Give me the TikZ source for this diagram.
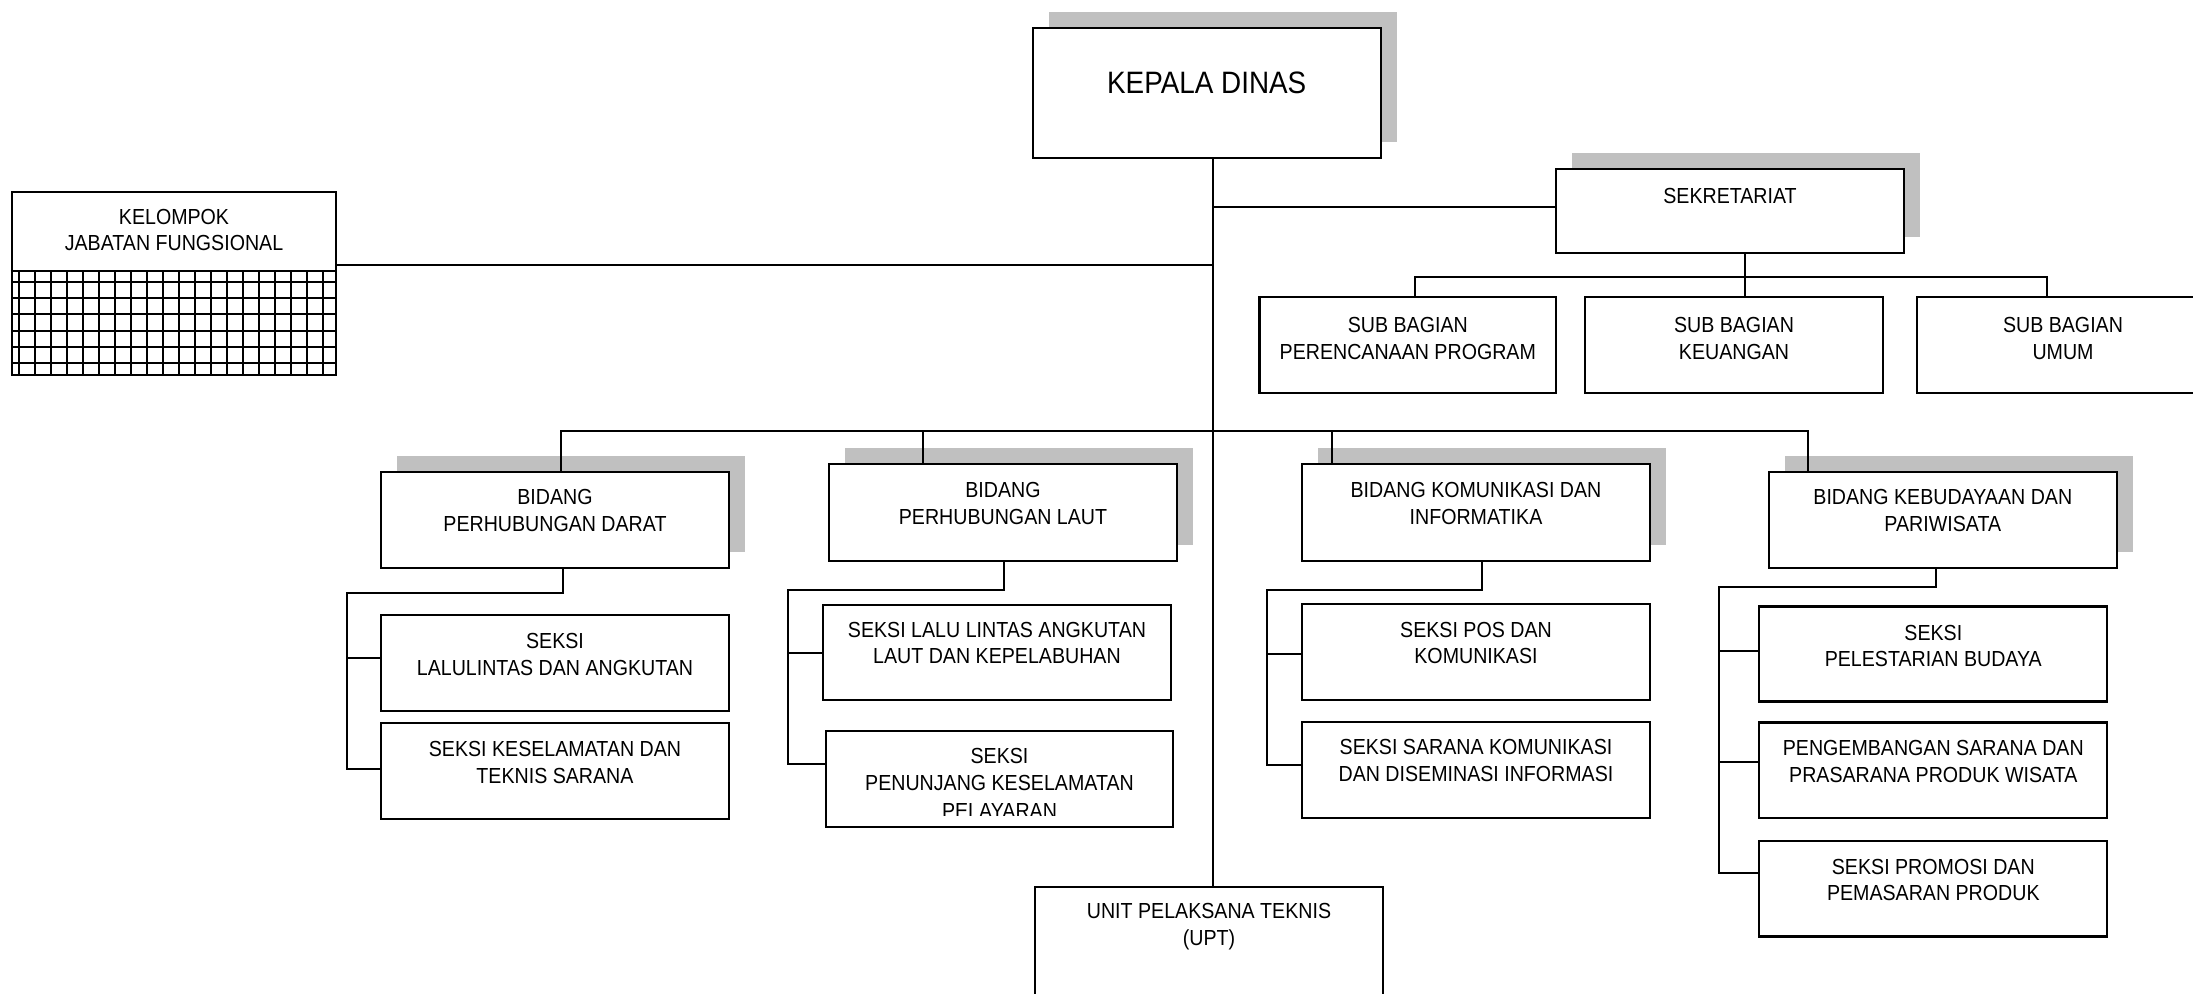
\documentclass[tikz,border=0pt]{standalone}
\usepackage{fontspec}
\setmainfont{Liberation Sans}[FakeStretch=0.9]
\usetikzlibrary{fit,shadows}
\definecolor{shadowgray}{HTML}{C0C0C0}
\begin{document}
\begin{tikzpicture}[x=0.01cm,y=-0.01cm,
  box/.style={draw, line width=0.6pt, fill=white, inner sep=0pt},
  shbox/.style={box, general shadow={fill=shadowgray, shadow xshift=0.16cm, shadow yshift=0.16cm}},
  txt/.style={align=center, inner sep=0pt, font=\fontsize{6.2}{7.6}\selectfont},
  conn/.style={line width=0.55pt}]
\useasboundingbox (0,0) rectangle (2193,993);

% top
\node[shbox, fit={(1032.7,27.7) (1380.7,158.3)}] (kepala) {};
\node[txt, font=\fontsize{8.8}{10}\selectfont] (kepala-t) at (1206.7,83) {KEPALA DINAS};

% kelompok
\node[box, fit={(11.7,191.7) (336,375)}] (kel) {};
\coordinate (G) at (0,270.7);
\begin{scope}[line width=0.6pt]
  \clip (11.7,270.7) rectangle (336,375);
  \foreach \i in {0,...,19} \draw (19+16.02*\i,270.7) -- (19+16.02*\i,375);
  \foreach \i in {0,...,5} \draw (11.7,281.7+16.3*\i) -- (336,281.7+16.3*\i);
\end{scope}
\draw[line width=0.6pt] (kel.west |- G) -- (kel.east |- G);
\node[txt] (kel-t) at (174,230) {KELOMPOK\\JABATAN FUNGSIONAL};

% sekretariat
\node[shbox, fit={(1556,169) (1904,252.7)}] (sek) {};
\node[txt] (sek-t) at (1730,195.7) {SEKRETARIAT};
\node[box, fit={(1259.5,296.7) (1556,393.3)}] (sbp) {};
\node[txt] (sbp-t) at (1407.8,338.3) {SUB BAGIAN\\PERENCANAAN PROGRAM};
\node[box, fit={(1585.3,296.7) (1882.6,393.3)}] (sbk) {};
\node[txt] (sbk-t) at (1734,338.3) {SUB BAGIAN\\KEUANGAN};
\node[box, fit={(1916.6,296.7) (2212,393.3)}] (sbu) {};
\node[txt] (sbu-t) at (2063,338.3) {SUB BAGIAN\\UMUM};

% bidang
\node[shbox, fit={(381,471.7) (729.3,567.7)}] (bd) {};
\node[txt] (bd-t) at (555,510.3) {BIDANG\\PERHUBUNGAN DARAT};
\node[shbox, fit={(829,464.3) (1176.7,560.7)}] (bl) {};
\node[txt] (bl-t) at (1003,503.3) {BIDANG\\PERHUBUNGAN LAUT};
\node[shbox, fit={(1302.3,464.3) (1650,560.7)}] (bk) {};
\node[txt] (bk-t) at (1476,503.3) {BIDANG KOMUNIKASI DAN\\INFORMATIKA};
\node[shbox, fit={(1769,472) (2116.7,567.7)}] (bb) {};
\node[txt] (bb-t) at (1942.8,510.3) {BIDANG KEBUDAYAAN DAN\\PARIWISATA};

% seksi darat
\node[box, fit={(381,615) (729.3,711)}] (s11) {};
\node[txt] (s11-t) at (555,654.2) {SEKSI\\LALULINTAS DAN ANGKUTAN};
\node[box, fit={(381,722.7) (729.3,819.3)}] (s12) {};
\node[txt] (s12-t) at (555,762.5) {SEKSI KESELAMATAN DAN\\TEKNIS SARANA};

% seksi laut
\node[box, fit={(823.3,605) (1171,700)}] (s21) {};
\node[txt] (s21-t) at (997,643) {SEKSI LALU LINTAS ANGKUTAN\\LAUT DAN KEPELABUHAN};
\node[box, fit={(825.7,731) (1173.3,826.7)}] (s22) {};
\begin{scope}
  \clip (825.7,731) rectangle (1173.3,815);
  \node[txt, font=\fontsize{6.2}{7.9}\selectfont] (s22-t) at (999.5,783.3) {SEKSI\\PENUNJANG KESELAMATAN\\PELAYARAN};
\end{scope}

% seksi komunikasi
\node[box, fit={(1302.3,604) (1650,700)}] (s31) {};
\node[txt] (s31-t) at (1476,643) {SEKSI POS DAN\\KOMUNIKASI};
\node[box, fit={(1302.3,722.3) (1650,817.7)}] (s32) {};
\node[txt] (s32-t) at (1476,760.5) {SEKSI SARANA KOMUNIKASI\\DAN DISEMINASI INFORMASI};

% seksi kebudayaan
\node[box, fit={(1759.3,606.5) (2107.3,701.5)}] (s41) {};
\node[txt] (s41-t) at (1933.3,645.9) {SEKSI\\PELESTARIAN BUDAYA};
\node[box, fit={(1759.3,722.5) (2107.3,818)}] (s42) {};
\node[txt] (s42-t) at (1933.3,761.3) {PENGEMBANGAN SARANA DAN\\PRASARANA PRODUK WISATA};
\node[box, fit={(1759.3,841) (2107.3,936.5)}] (s43) {};
\node[txt] (s43-t) at (1933.3,880) {SEKSI PROMOSI DAN\\PEMASARAN PRODUK};

% upt
\node[box, fit={(1035,886.7) (1383.3,1010)}] (upt) {};
\node[txt] (upt-t) at (1209,926.5) {UNIT PELAKSANA TEKNIS\\(UPT)};

% connectors
\coordinate (T) at (1213,0);
\draw[conn] (kepala.south -| T) -- (upt.north -| T);
\coordinate (J) at (0,265);
\draw[conn] (kel.east |- J) -- (T |- J);
\coordinate (SW) at (0,207.3);
\draw[conn] (sek.west |- SW) -- (T |- SW);

\coordinate (SB1) at (1415,276.7);
\coordinate (SB2) at (1744.6,276.7);
\coordinate (SB3) at (2047,276.7);
\draw[conn] (sek.south -| SB2) -- (SB2 |- sbk.north);
\draw[conn] (SB1 |- sbp.north) -- (SB1) -- (SB3) -- (SB3 |- sbu.north);

\coordinate (B1) at (561,431);
\coordinate (B2) at (923.3,431);
\coordinate (B3) at (1332.3,431);
\coordinate (B4) at (1808.3,431);
\draw[conn] (B1 |- bd.north) -- (B1) -- (B4) -- (B4 |- bb.north);
\draw[conn] (B2) -- (B2 |- bl.north);
\draw[conn] (B3) -- (B3 |- bk.north);

\coordinate (D1) at (563.3,593.3);
\coordinate (D2) at (346.8,593.3);
\coordinate (D3) at (346.8,657.7);
\coordinate (D4) at (346.8,769.3);
\draw[conn] (bd.south -| D1) -- (D1) -- (D2) -- (D4) -- (D4 -| s12.west);
\draw[conn] (D3) -- (D3 -| s11.west);

\coordinate (L1) at (1004,590);
\coordinate (L2) at (787.7,590);
\coordinate (L3) at (787.7,653.3);
\coordinate (L4) at (787.7,764);
\draw[conn] (bl.south -| L1) -- (L1) -- (L2) -- (L4) -- (L4 -| s22.west);
\draw[conn] (L3) -- (L3 -| s21.west);

\coordinate (K1) at (1482.3,590);
\coordinate (K2) at (1267,590);
\coordinate (K3) at (1267,654);
\coordinate (K4) at (1267,765);
\draw[conn] (bk.south -| K1) -- (K1) -- (K2) -- (K4) -- (K4 -| s32.west);
\draw[conn] (K3) -- (K3 -| s31.west);

\coordinate (E1) at (1935.7,587.3);
\coordinate (E2) at (1719,587.3);
\coordinate (E3) at (1719,651);
\coordinate (E4) at (1719,762);
\coordinate (E5) at (1719,873.2);
\draw[conn] (bb.south -| E1) -- (E1) -- (E2) -- (E5) -- (E5 -| s43.west);
\draw[conn] (E3) -- (E3 -| s41.west);
\draw[conn] (E4) -- (E4 -| s42.west);
\end{tikzpicture}
\end{document}
